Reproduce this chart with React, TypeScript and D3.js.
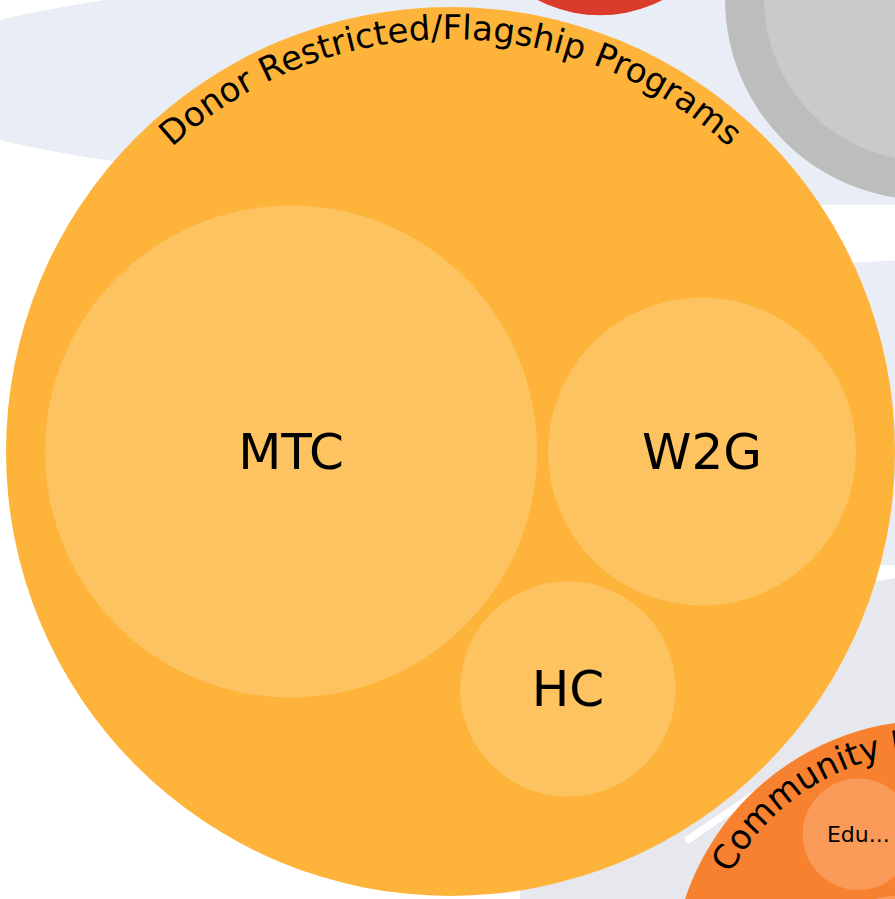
import React, { useRef, useEffect } from 'react';
import * as d3 from 'd3';

// Top level budget categories (first one is the zoomed-in focus)
const groupNames = [
  'Donor Restricted/Flagship Programs',
  'General Operations',
  'Community Impact Programs',
  'Administration',
  'Fundraising',
];
const groupColors = ['#feb43a', '#5b8fd6', '#f7812f', '#bdbdbd', '#da3b2b'];

// Programs inside each category, values in $k
const donorPrograms = ['MTC', 'W2G', 'HC'];
const donorValues = [605, 237, 116];
const operationsPrograms = ['Core Operations'];
const operationsValues = [940];
const communityPrograms = ['Education', 'Outreach', 'Partnerships'];
const communityValues = [31, 42, 233];
const adminPrograms = ['Overhead'];
const adminValues = [262];
const fundraisingPrograms = ['Events'];
const fundraisingValues = [92];

const programSets = [
  [donorPrograms, donorValues],
  [operationsPrograms, operationsValues],
  [communityPrograms, communityValues],
  [adminPrograms, adminValues],
  [fundraisingPrograms, fundraisingValues],
];

const data = {
  name: 'Budget',
  children: groupNames.map((name, i) => ({
    name,
    children: programSets[i][0].map((p, j) => ({ name: p, value: programSets[i][1][j] })),
  })),
};

const PAD = 11; // gap between sibling circles
const INSET = 39; // room between children and the parent rim (arc label lives here)
const UNIT = 10; // radius per sqrt(value)

// pack bottom-up with d3.packSiblings / d3.packEnclose
function packNode(node: any) {
  if (!node.children) {
    node.r = Math.sqrt(node.value) * UNIT;
    return;
  }
  node.children.forEach(packNode);
  const circles = node.children.map((c: any) => ({ node: c, r: c.r + PAD / 2 }));
  d3.packSiblings(circles);
  const enc = d3.packEnclose(circles);
  circles.forEach((c: any) => {
    c.node.dx = c.x - enc.x;
    c.node.dy = c.y - enc.y;
  });
  node.r = enc.r + INSET - PAD / 2;
}

const BudgetPack = () => {
  const ref = useRef<SVGSVGElement | null>(null);

  useEffect(() => {
    const width = 895;
    const height = 899;
    const svg = d3.select(ref.current);
    svg.selectAll('*').remove();

    const root: any = d3.hierarchy(data as any).sum((d: any) => d.value || 0);
    packNode(root);
    root.x = 0;
    root.y = 0;
    root.eachBefore((n: any) => {
      if (n.parent) {
        n.x = n.parent.x + n.dx;
        n.y = n.parent.y + n.dy;
      }
    });

    // zoom onto the focus category
    const focus = root.children[0];
    const k = height / (focus.r * 2 + 10);
    const cx = width / 2 + 3;
    const cy = height / 2 + 2;
    const sx = (n: any) => (n.x - focus.x) * k + cx;
    const sy = (n: any) => (n.y - focus.y) * k + cy;
    const inView = (x: number, y: number) => x > 0 && x < width && y > 0 && y < height;

    const colorOf = (n: any): string =>
      n.depth === 1
        ? groupColors[groupNames.indexOf(n.data.name)]
        : d3.interpolateRgb(colorOf(n.parent), '#fff')(0.2);

    // soft backdrop shapes
    const bg = svg.append('g');
    bg.append('ellipse').attr('cx', 850).attr('cy', 80).attr('rx', 970).attr('ry', 125).attr('fill', '#e9eef6');
    bg.append('ellipse').attr('cx', 1000).attr('cy', 413).attr('rx', 600).attr('ry', 155).attr('fill', '#e9eef6');
    bg.append('ellipse').attr('cx', 1000).attr('cy', 900).attr('rx', 480).attr('ry', 330).attr('fill', '#e6e8ee');
    bg.append('path')
      .attr('d', 'M686,841 L770,784')
      .attr('stroke', '#fff')
      .attr('stroke-width', 7)
      .attr('fill', 'none');

    const nodes = root.descendants().filter((n: any) => n.depth > 0);

    svg.append('g')
      .selectAll('circle')
      .data(nodes)
      .join('circle')
      .attr('cx', sx)
      .attr('cy', sy)
      .attr('r', (d: any) => d.r * k)
      .attr('fill', colorOf);

    // curved category labels along the top rim, only where some of the text is on screen
    const arcFont = 34;
    const arcGroups = root.children
      .map((g: any, i: number) => ({ g, i, R: g.r * k - 32 }))
      .filter(({ g, R }: any) => {
        const span = (g.data.name.length * 0.58 * arcFont) / R;
        return d3.range(0, 1.0001, 0.1).some((t) => {
          const a = -Math.PI / 2 - span / 2 + t * span;
          return inView(sx(g) + R * Math.cos(a), sy(g) + R * Math.sin(a));
        });
      });

    const defs = svg.append('defs');
    arcGroups.forEach(({ g, i, R }: any) => {
      const x = sx(g);
      const y = sy(g);
      defs.append('path')
        .attr('id', `arc-${i}`)
        .attr('d', `M${x - R},${y} A${R},${R} 0 0 1 ${x + R},${y}`);
    });

    svg.append('g')
      .selectAll('text')
      .data(arcGroups)
      .join('text')
      .attr('font-family', 'DejaVu Sans')
      .attr('font-size', arcFont)
      .attr('fill', '#000')
      .append('textPath')
      .attr('href', (d: any) => `#arc-${d.i}`)
      .attr('startOffset', '50%')
      .attr('text-anchor', 'middle')
      .text((d: any) => d.g.data.name);

    // program labels (only for circles whose centre is in view)
    const leaves = root.leaves().filter((n: any) => inView(sx(n), sy(n)));

    svg.append('g')
      .selectAll('text')
      .data(leaves)
      .join('text')
      .attr('x', sx)
      .attr('y', sy)
      .attr('dy', '0.35em')
      .attr('text-anchor', 'middle')
      .attr('font-family', 'DejaVu Sans')
      .attr('font-size', (d: any) => (d.parent === focus ? 50 : 22))
      .attr('fill', '#000')
      .text((d: any) => {
        const fs = d.parent === focus ? 50 : 22;
        const maxChars = Math.floor((d.r * k * 2 * 0.85) / (fs * 0.62));
        const name = d.data.name;
        return name.length > maxChars ? name.slice(0, Math.max(1, maxChars - 3)) + '...' : name;
      });
  }, []);

  return (
    <svg
      ref={ref}
      width={895}
      height={899}
      style={{ position: 'absolute', left: 0, top: 0, display: 'block' }}
    />
  );
};

export default function App() {
  return <BudgetPack />;
}
